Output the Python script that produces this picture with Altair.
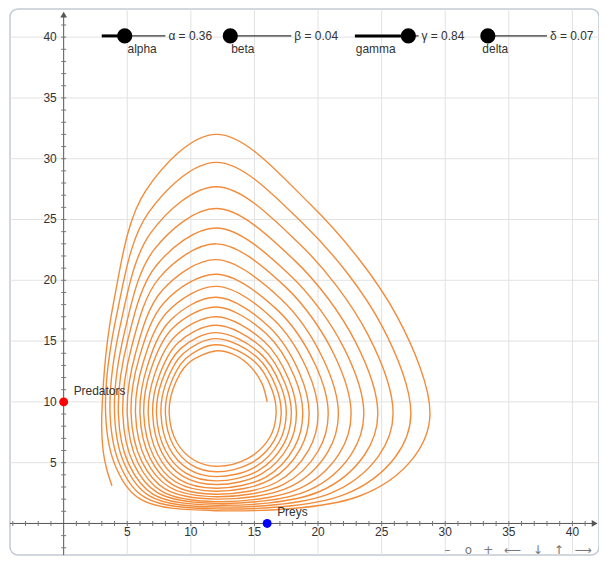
import altair as alt
import pandas as pd

# ---------------- data ----------------
# trajectory of the (prey, predator) system, in drawing order
prey = [
    16.0, 15.55, 14.45, 13.25,
    12, 9.78, 8.61, 8.3, 8.91, 10.24, 12, 14.48, 16.2, 16.7,
    16.38, 15.04, 12, 9.6, 8.34, 8.0, 8.64, 10.04, 12, 14.73, 16.57, 17.1,
    16.72, 15.23, 12, 9.38, 8.02, 7.65, 8.32, 9.81, 12, 15.0, 16.93, 17.5,
    17.06, 15.41, 12, 9.17, 7.71, 7.3, 8.01, 9.57, 12, 15.27, 17.3, 17.9,
    17.39, 15.58, 12, 8.98, 7.44, 7.0, 7.73, 9.35, 12, 15.55, 17.68, 18.3,
    17.72, 15.73, 12, 8.77, 7.13, 6.65, 7.4, 9.08, 12, 15.9, 18.14, 18.8,
    18.14, 15.93, 12, 8.55, 6.81, 6.3, 7.08, 8.81, 12, 16.26, 18.61, 19.3,
    18.55, 16.12, 12, 8.36, 6.55, 6.0, 6.79, 8.56, 12, 16.74, 19.26, 20.0,
    19.13, 16.4, 12, 8.15, 6.24, 5.65, 6.45, 8.27, 12, 17.29, 20.0, 20.8,
    19.79, 16.73, 12, 7.93, 5.93, 5.3, 6.12, 7.97, 12, 17.87, 20.75, 21.6,
    20.44, 17.02, 12, 7.74, 5.67, 5.0, 5.82, 7.69, 12, 18.57, 21.68, 22.6,
    21.26, 17.4, 12, 7.52, 5.36, 4.65, 5.47, 7.37, 12, 19.3, 22.61, 23.6,
    22.07, 17.74, 12, 7.3, 5.05, 4.3, 5.12, 7.04, 12, 20.12, 23.65, 24.7,
    22.95, 18.11, 12, 7.11, 4.79, 4.0, 4.82, 6.74, 12, 21.01, 24.77, 25.9,
    23.91, 18.51, 12, 6.89, 4.49, 3.65, 4.47, 6.39, 12, 22.05, 26.09, 27.3,
    25.02, 18.95, 12, 6.67, 4.19, 3.3, 4.11, 6.03, 12, 23.21, 27.51, 28.8,
    26.2, 19.39, 12, 6.47, 3.93, 3.0, 3.1, 3.4, 3.8,
]
predators = [
    10.0, 11.6, 13.15, 13.95,
    14.2, 13.16, 11.08, 9, 6.64, 5.22, 4.7, 5.35, 7.07, 9,
    11.0, 13.28, 14.7, 13.56, 11.28, 9, 6.39, 4.82, 4.25, 4.96, 6.86, 9,
    11.17, 13.65, 15.2, 13.96, 11.48, 9, 6.17, 4.47, 3.85, 4.62, 6.68, 9,
    11.35, 14.03, 15.7, 14.36, 11.68, 9, 5.98, 4.16, 3.5, 4.33, 6.53, 9,
    11.56, 14.48, 16.3, 14.84, 11.92, 9, 5.81, 3.9, 3.2, 4.07, 6.39, 9,
    11.8, 15.0, 17.0, 15.4, 12.2, 9, 5.65, 3.63, 2.9, 3.82, 6.26, 9,
    12.08, 15.6, 17.8, 16.04, 12.52, 9, 5.51, 3.41, 2.65, 3.6, 6.14, 9,
    12.36, 16.2, 18.6, 16.68, 12.84, 9, 5.37, 3.19, 2.4, 3.39, 6.03, 9,
    12.68, 16.88, 19.5, 17.4, 13.2, 9, 5.26, 3.02, 2.2, 3.22, 5.94, 9,
    13.03, 17.63, 20.5, 18.2, 13.6, 9, 5.15, 2.84, 2.0, 3.05, 5.85, 9,
    13.45, 18.53, 21.7, 19.16, 14.08, 9, 5.04, 2.66, 1.8, 2.88, 5.76, 9,
    13.9, 19.5, 23.0, 20.2, 14.6, 9, 4.96, 2.53, 1.65, 2.75, 5.69, 9,
    14.36, 20.48, 24.3, 21.24, 15.12, 9, 4.88, 2.4, 1.5, 2.63, 5.63, 9,
    14.92, 21.68, 25.9, 22.52, 15.76, 9, 4.79, 2.27, 1.35, 2.5, 5.56, 9,
    15.55, 23.03, 27.7, 23.96, 16.48, 9, 4.71, 2.14, 1.2, 2.37, 5.49, 9,
    16.25, 24.53, 29.7, 25.56, 17.28, 9, 4.63, 2.0, 1.05, 2.24, 5.42, 9,
    17.05, 26.25, 32.0, 27.4, 18.2, 9, 6.0, 4.4, 3.1,
]

initial_prey = 16
initial_predators = 10

slider_names = ["alpha", "beta", "gamma", "delta"]
slider_symbols = ["α", "β", "γ", "δ"]
slider_values = [0.36, 0.04, 0.84, 0.07]

major_ticks = [5, 10, 15, 20, 25, 30, 35, 40]
nav_symbols = ["–", "o", "+", "⟵", "↓", "↑", "⟶"]

# ---------------- layout ----------------
W, H = 591, 548
XMIN, XMAX = -4.22, 42.09
YMIN, YMAX = -2.6, 42.32
FONT = "Liberation Sans"
TXT = "#333333"

xs = alt.Scale(domain=[XMIN, XMAX], nice=False, zero=False)
ys = alt.Scale(domain=[YMIN, YMAX], nice=False, zero=False)


def X(f):
    return alt.X(f, type="quantitative", scale=xs, axis=None)


def Y(f):
    return alt.Y(f, type="quantitative", scale=ys, axis=None)


grid_df = pd.DataFrame({"v": major_ticks})
grid_v = alt.Chart(grid_df).mark_rule(color="#e2e2e2", strokeWidth=1).encode(
    x=X("v"), y=alt.value(0), y2=alt.value(H))
grid_h = alt.Chart(grid_df).mark_rule(color="#e2e2e2", strokeWidth=1).encode(
    y=Y("v"), x=alt.value(0), x2=alt.value(W))

axes_df = pd.DataFrame({"x1": [XMIN, 0.0], "x2": [41.7, 0.0],
                        "y1": [0.0, YMIN], "y2": [0.0, 41.8]})
axes = alt.Chart(axes_df).mark_rule(color="#555555", strokeWidth=1).encode(
    x=X("x1"), x2="x2", y=Y("y1"), y2="y2")

minor_x = pd.DataFrame({"v": [v for v in range(-4, 42) if v != 0], "z": 0.0})
minor_y = pd.DataFrame({"v": [v for v in range(-2, 42) if v != 0], "z": 0.0})
ticks_x = alt.Chart(minor_x).mark_tick(orient="vertical", size=5, thickness=1,
                                        color="#777777", opacity=1).encode(x=X("v"), y=Y("z"))
ticks_y = alt.Chart(minor_y).mark_tick(orient="horizontal", size=5, thickness=1,
                                        color="#777777", opacity=1).encode(y=Y("v"), x=X("z"))

lab_df = pd.DataFrame({"v": major_ticks, "z": 0.0, "t": [str(v) for v in major_ticks]})
labels_x = alt.Chart(lab_df).mark_text(font=FONT, fontSize=12, color=TXT, align="center",
                                       baseline="top", dy=4).encode(x=X("v"), y=Y("z"), text="t:N")
labels_y = alt.Chart(lab_df).mark_text(font=FONT, fontSize=12, color=TXT, align="right",
                                       baseline="middle", dx=-7).encode(y=Y("v"), x=X("z"), text="t:N")

arrows_df = pd.DataFrame({"x": [41.75, 0.0], "y": [0.0, 41.85],
                          "s": ["triangle-right", "triangle-up"]})
arrows = alt.Chart(arrows_df).mark_point(filled=True, size=45, color="#555555", opacity=1).encode(
    x=X("x"), y=Y("y"), shape=alt.Shape("s:N", scale=None))

traj = pd.DataFrame({"x": prey, "y": predators, "i": list(range(len(prey)))})
curve = alt.Chart(traj).mark_line(color="#F28C3A", strokeWidth=1.4,
                                  interpolate="catmull-rom", clip=True).encode(
    x=X("x"), y=Y("y"), order=alt.Order("i:Q"))

pts_df = pd.DataFrame({"x": [0.0, float(initial_prey)], "y": [float(initial_predators), 0.0],
                       "name": ["Predators", "Preys"], "c": ["#FF0000", "#0000FF"]})
pts = alt.Chart(pts_df).mark_circle(size=80, opacity=1).encode(
    x=X("x"), y=Y("y"), color=alt.Color("c:N", scale=None))
pts_lab = alt.Chart(pts_df).mark_text(font=FONT, fontSize=12, color=TXT, align="left",
                                      baseline="middle", dx=10, dy=-11).encode(
    x=X("x"), y=Y("y"), text="name:N")

# sliders (range 0..1, drawn 5 units long)
s_start = [3.0, 12.9, 22.9, 33.0]
s_len = 5.0
s_y = 40.1
s_name_x = [5.02, 13.17, 22.97, 32.92]
sl = pd.DataFrame({
    "start": s_start,
    "end": [s + s_len for s in s_start],
    "knob": [s + v * s_len for s, v in zip(s_start, slider_values)],
    "y": s_y,
    "ny": s_y - 1.05,
    "nx": s_name_x,
    "name": slider_names,
    "label": [f"{sym} = {v:.2f}" for sym, v in zip(slider_symbols, slider_values)],
})
sl_thin = alt.Chart(sl).mark_rule(color="#000000", strokeWidth=1).encode(
    x=X("start"), x2="end", y=Y("y"))
sl_thick = alt.Chart(sl).mark_rule(color="#000000", strokeWidth=3).encode(
    x=X("start"), x2="knob", y=Y("y"))
sl_knob = alt.Chart(sl).mark_circle(size=230, color="#000000", opacity=1).encode(
    x=X("knob"), y=Y("y"))
sl_val = alt.Chart(sl).mark_text(font=FONT, fontSize=12, color=TXT, align="left",
                                 baseline="middle", dx=3).encode(x=X("end"), y=Y("y"), text="label:N")
sl_name = alt.Chart(sl).mark_text(font=FONT, fontSize=12, color=TXT, align="left",
                                  baseline="middle").encode(x=X("nx"), y=Y("ny"), text="name:N")

nav_df = pd.DataFrame({"t": nav_symbols, "k": list(range(len(nav_symbols)))})
nav_px = [439, 460, 480, 504, 530, 551, 575]
nav_layers = []
for sym, px in zip(nav_symbols, nav_px):
    nav_layers.append(
        alt.Chart(nav_df[nav_df.t == sym]).mark_text(font="DejaVu Sans", fontSize=12,
                                                     color="#777777", align="center",
                                                     baseline="middle").encode(
            x=alt.value(px), y=alt.value(543), text="t:N"))

chart = alt.layer(
    grid_v, grid_h, axes, ticks_x, ticks_y, labels_x, labels_y, arrows,
    curve, pts, pts_lab,
    sl_thin, sl_thick, sl_knob, sl_val, sl_name,
    *nav_layers,
).properties(
    width=W, height=H,
    padding={"left": 2, "top": 0, "right": 0, "bottom": 0},
    autosize="none",
    background="white",
).configure_view(stroke="#c3cad4", strokeWidth=1.5, cornerRadius=8)

chart.save("out.html", embed_options={"renderer": "svg", "actions": False})
